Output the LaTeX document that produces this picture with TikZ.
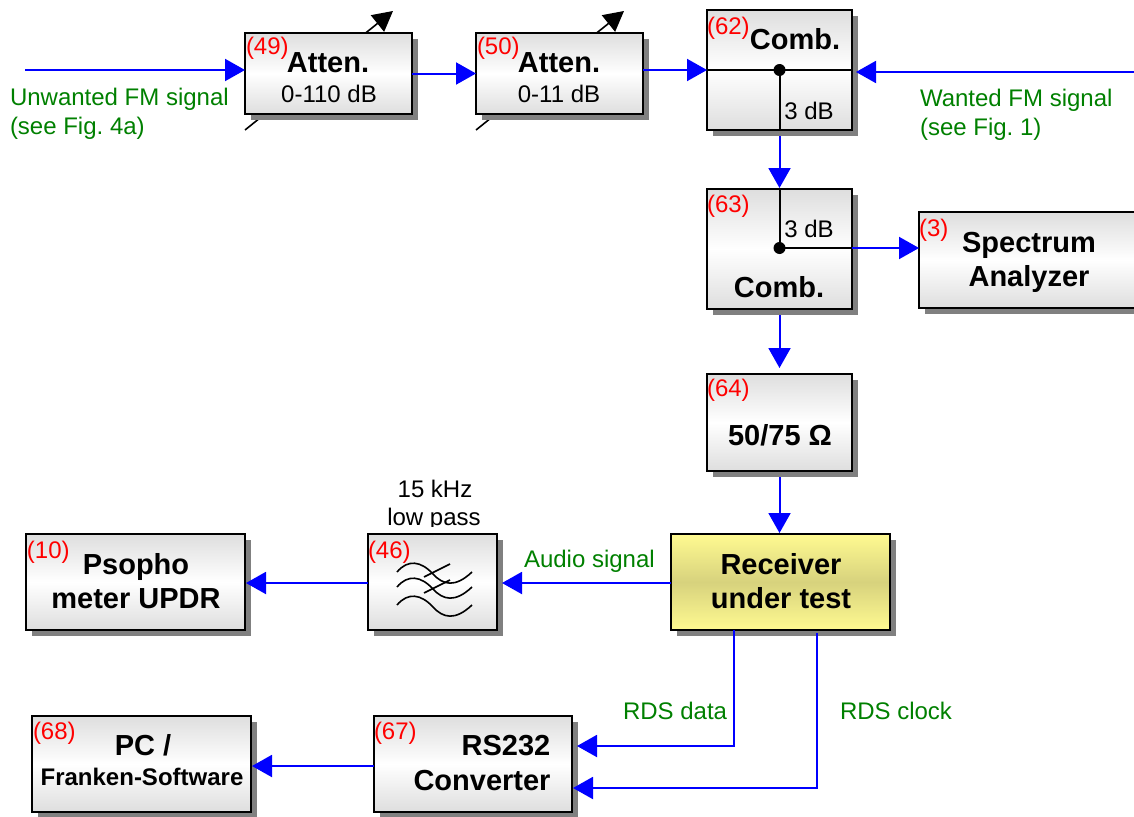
\documentclass[tikz,border=0pt]{standalone}
\usepackage{fontspec}
\setmainfont{Liberation Sans}
\usetikzlibrary{arrows.meta,shadows}
\definecolor{flowblue}{RGB}{0,0,255}
\definecolor{notegreen}{RGB}{0,128,0}
\definecolor{rxlight}{RGB}{255,250,145}
\definecolor{rxdark}{RGB}{215,210,125}
\tikzset{
  blk/.style={draw=black,line width=2pt,inner sep=0pt,outer sep=0pt,
    top color=black!13,bottom color=black!13,middle color=white,
    drop shadow={shadow xshift=6pt,shadow yshift=-6pt,fill=black!50,opacity=1}},
  yblk/.style={blk,top color=rxlight,bottom color=rxlight,middle color=rxdark},
  flow/.style={draw=flowblue,line width=2pt,-{Triangle[length=20pt,width=22pt]}},
  flowgap/.style={flow,shorten >=5pt},
  wire/.style={draw=black,line width=2pt},
  thinwire/.style={draw=black,line width=1.6pt},
  dot/.style={circle,fill=black,inner sep=0pt,minimum size=12pt},
  varline/.style={draw=black,line width=1.6pt,-{Triangle[length=20pt,width=21pt]}},
  base/.style={inner sep=0pt,outer sep=0pt},
  bigt/.style={base,anchor=base,font=\fontsize{29}{29}\selectfont\bfseries},
  smallb/.style={base,anchor=base,font=\fontsize{24}{24}\selectfont\bfseries},
  midt/.style={base,anchor=base,font=\fontsize{24}{24}\selectfont},
  tag/.style={base,anchor=base west,text=red,font=\fontsize{24}{24}\selectfont},
  note/.style={base,anchor=base west,text=notegreen,font=\fontsize{24}{24}\selectfont},
}
\newcommand{\blkbox}[6][blk]{%
  \node[#1,minimum width={(#5-#3)*1pt},minimum height={(#6-#4)*1pt}] (#2) at ({(#3+#5)/2},{(#4+#6)/2}) {};}
\frenchspacing
\begin{document}
\begin{tikzpicture}[x=1pt,y=-1pt]
\useasboundingbox (0,0) rectangle (1134,816);
% variable attenuator arrows
\coordinate (v49a) at (245,130); \coordinate (v49b) at (393,11);
\coordinate (v50a) at (476,130); \coordinate (v50b) at (624,11);
\draw[varline] (v49a) -- (v49b);
\draw[varline] (v50a) -- (v50b);
% boxes
\blkbox{a49}{245}{33}{412}{114}
\blkbox{a50}{476}{33}{643}{114}
\blkbox{a62}{707}{10}{852}{130}
\blkbox{a63}{707}{189}{852}{309}
\blkbox{a3}{919}{212}{1136}{308}
\blkbox{a64}{707}{374}{852}{471}
\blkbox[yblk]{rx}{671}{534}{890}{630}
\blkbox{a46}{368}{534}{497}{630}
\blkbox{a10}{26}{534}{245}{630}
\blkbox{a67}{374}{716}{572}{812}
\blkbox{a68}{32}{716}{251}{812}
% combiner internals
\coordinate (y62) at (0,70);
\coordinate (y63) at (0,248);
\node[dot] (d62) at (a62.center |- y62) {};
\node[dot] (d63) at (a63.center |- y63) {};
\draw[wire] (a62.west |- y62) -- (a62.east |- y62);
\draw[wire] (d62.center) -- (d62.center |- a62.south);
\draw[wire] (d63.center |- a63.north) -- (d63.center);
\draw[wire] (d63.center) -- (a63.east |- y63);
% filter symbol
\foreach \d in {0,15,33}{
  \draw[thinwire] (397,572+\d) .. controls (408,559+\d) and (421,561+\d) .. (433,574+\d)
     .. controls (443,585+\d) and (455,588+\d) .. (472,572+\d);
}
\draw[thinwire] (424,577) -- (450,564);
\draw[thinwire] (424,593) -- (450,580);
% connectors
\coordinate (uw) at (25,70);
\coordinate (ww) at (1134,72);
\draw[flow] (uw) -- (a49.west |- uw);
\draw[flow] (a49.east) -- (a50.west);
\draw[flow] (a50.east |- y62) -- (a62.west |- y62);
\draw[flowgap,shorten >=4pt] (ww) -- (a62.east |- ww);
\draw[flow,shorten <=6pt,shorten >=1pt] (a62.south) -- (a63.north);
\draw[flow] (a63.east |- y63) -- (a3.west |- y63);
\draw[flow,shorten <=6pt,shorten >=6pt] (a63.south) -- (a64.north);
\draw[flow,shorten <=6pt,shorten >=1pt] (a64.south) -- (rx.north -| a64.south);
\coordinate (y583) at (0,583);
\draw[flowgap] (rx.west |- y583) -- (a46.east |- y583);
\draw[flowgap,shorten >=1pt] (a46.west |- y583) -- (a10.east |- y583);
\coordinate (rd) at (734,746);
\coordinate (rc) at (817,788);
\draw[flowgap] (rd |- rx.south) -- (rd) -- (a67.east |- rd);
\draw[flowgap,shorten >=1pt,shorten <=3pt] (rc |- rx.south) -- (rc) -- (a67.east |- rc);
\coordinate (y766) at (0,766);
\draw[flowgap,shorten >=1pt] (a67.west |- y766) -- (a68.east |- y766);
% tags
\node[tag] (t49) at (246,55) {(49)};
\node[tag] (t50) at (477,55) {(50)};
\node[tag] (t62) at (707,35) {(62)};
\node[tag] (t63) at (707,212) {(63)};
\node[tag] (t3) at (919,236) {(3)};
\node[tag] (t64) at (707,396) {(64)};
\node[tag] (t46) at (368,558) {(46)};
\node[tag] (t10) at (27,558) {(10)};
\node[tag] (t67) at (374,739) {(67)};
\node[tag] (t68) at (33,739) {(68)};
% block texts
\node[bigt] (l49a) at (328,72) {Atten.};
\node[midt] (l49b) at (329,102) {0-110 dB};
\node[bigt] (l50a) at (559,72) {Atten.};
\node[midt] (l50b) at (559,102) {0-11 dB};
\node[bigt] (l62) at (795,49) {Comb.};
\node[midt] (l62b) at (809,119) {3 dB};
\node[midt] (l63b) at (809,237) {3 dB};
\node[bigt] (l63) at (779,297) {Comb.};
\node[bigt] (l3a) at (1029,252) {Spectrum};
\node[bigt] (l3b) at (1029,286) {Analyzer};
\node[bigt] (l64) at (780,445) {50/75 Ω};
\node[bigt] (lrxa) at (781,574) {Receiver};
\node[bigt] (lrxb) at (781,608) {under test};
\node[bigt] (l10a) at (136,574) {Psopho};
\node[bigt] (l10b) at (136,608) {meter UPDR};
\node[bigt] (l67a) at (506,755) {RS232};
\node[bigt] (l67b) at (482,790) {Converter};
\node[bigt] (l68a) at (143,755) {PC /};
\node[smallb] (l68b) at (142,785) {Franken-Software};
\node[midt] (l46a) at (435,497) {15 kHz};
\begin{scope}
\clip (360,500) rectangle (510,526);
\node[midt] (l46b) at (434,525) {low pass};
\end{scope}
% notes
\node[note] (n1) at (10,105) {Unwanted FM signal};
\node[note] (n2) at (10,134) {(see Fig. 4a)};
\node[note] (n3) at (920,106) {Wanted FM signal};
\node[note] (n4) at (920,135) {(see Fig. 1)};
\node[note] (n5) at (524,567) {Audio signal};
\node[note] (n6) at (623,719) {RDS data};
\node[note] (n7) at (840,719) {RDS clock};
\end{tikzpicture}
\end{document}
